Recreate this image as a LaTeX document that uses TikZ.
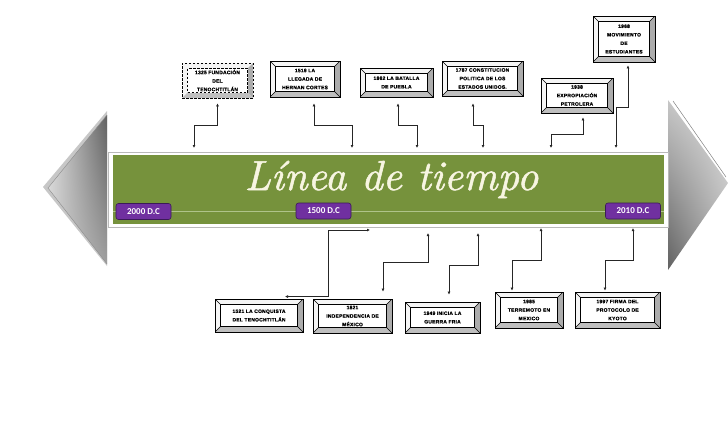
\documentclass[tikz,border=0pt]{standalone}
\usepackage{fontspec}
\newfontfamily\boxfont[LetterSpace=4,FakeBold=0.8]{Liberation Sans}
\newfontfamily\lblfont{Carlito}
\newfontfamily\titlefont[Extension=.otf, UprightFont=*-italic, FakeBold=1.2]{lmroman10}
\usetikzlibrary{arrows.meta,shadings}
\definecolor{olivegr}{HTML}{76923C}
\definecolor{purp}{HTML}{7030A0}
\definecolor{purpdark}{HTML}{3B1A57}
\definecolor{cream}{HTML}{F7F5E1}
\definecolor{bandline}{HTML}{AFC38A}
\newcommand\bevfills{%
 \coordinate (pnw) at (path picture bounding box.north west);
 \coordinate (pne) at (path picture bounding box.north east);
 \coordinate (psw) at (path picture bounding box.south west);
 \coordinate (pse) at (path picture bounding box.south east);
 \fill[gray!8] (psw) -- (pnw) -- (pne) -- ([shift={(-5.5pt,-5.5pt)}]pne) -- ([shift={(5.5pt,-5.5pt)}]pnw) -- ([shift={(5.5pt,5.5pt)}]psw) -- cycle;
 \fill[gray!65] (pne) -- (pse) -- ([shift={(-5.5pt,5.5pt)}]pse) -- ([shift={(-5.5pt,-5.5pt)}]pne) -- cycle;
 \fill[gray!50] (psw) -- (pse) -- ([shift={(-5.5pt,5.5pt)}]pse) -- ([shift={(5.5pt,5.5pt)}]psw) -- cycle;
 \draw[line width=0.7pt, fill=white] ([shift={(5.5pt,-5.5pt)}]pnw) rectangle ([shift={(-5.5pt,5.5pt)}]pse);
}
\newcommand\bevdiag{%
 \draw[line width=0.4pt] (pnw) -- ++(5.5pt,-5.5pt) (pne) -- ++(-5.5pt,-5.5pt) (psw) -- ++(5.5pt,5.5pt) (pse) -- ++(-5.5pt,5.5pt);
}
\tikzset{
 evbase/.style={draw=black, line width=0.8pt, fill=white, inner sep=0pt, align=center, text=black,
   font=\boxfont\bfseries\fontsize{5}{8.5}\selectfont},
 ev/.style={evbase, path picture={\bevfills\bevdiag}},
 evd/.style={evbase, dash pattern=on 2.5pt off 1.5pt, path picture={\bevfills}},
 conn/.style={line width=0.7pt, black!85, {Latex[length=3pt,width=3pt]}-{Latex[length=3pt,width=3pt]}},
 lbl/.style={fill=purp, draw=purpdark, line width=0.6pt, rounded corners=2.5pt, minimum width=55pt,
   minimum height=16pt, inner sep=0pt, text=white, font=\lblfont\bfseries\fontsize{9}{9}\selectfont},
}
\begin{document}
\begin{tikzpicture}[x=1pt,y=-1pt]
\useasboundingbox (0,0) rectangle (728,442);
% side arrows
\fill[black!22] (107,111) -- (43,187) -- (107,266) -- cycle;
\shade[upper left=black!12, upper right=black!62, lower left=black!18, lower right=black!38] (107,115) -- (48,188) -- (107,264) -- cycle;
\draw[black!45, line width=0.4pt] (107,115) -- (48,188) -- (107,264);
\shade[upper left=black!22, upper right=black!12, lower left=black!62, lower right=black!30] (668,100) -- (728,183) -- (668,270) -- cycle;
\draw[black!50, line width=0.5pt] (673,101) -- (726,177);
% frame and band
\node[draw=gray!55, line width=1pt, fill=white, minimum width=560pt, minimum height=75pt, inner sep=0pt] (frame) at (388,189.5) {};
\node[fill=olivegr, minimum width=551pt, minimum height=69pt, inner sep=0pt] (band) at (388.5,189.5) {};
\draw[bandline, line width=0.6pt] ([yshift=-21.5pt]band.west) -- ([yshift=-21.5pt]band.east);
\node[font=\titlefont\fontsize{42}{42}\selectfont, text=cream, anchor=base, inner sep=0pt] (title) at (391.5,190) {Línea de tiempo};
\node[lbl] (l2000) at (143.5,211.5) {2000 D.C};
\node[lbl] (l1500) at (323.5,211) {1500 D.C};
\node[lbl] (l2010) at (633,211) {2010 D.C};
% top boxes
\node[evd, minimum width=71pt, minimum height=35pt] (b1325) at (217.5,80.5) {1325 FUNDACIÓN\\DEL\\TENOCHTITLÁN};
\node[ev, minimum width=70pt, minimum height=36pt] (b1519) at (305,79) {1519 LA\\LLEGADA DE\\HERNAN CORTES};
\node[ev, minimum width=73pt, minimum height=29pt] (b1862) at (396.5,82.5) {1862 LA BATALLA\\DE PUEBLA};
\node[ev, minimum width=81pt, minimum height=35pt] (b1787) at (482.5,78.5) {1787 CONSTITUCION\\POLITICA DE LOS\\ESTADOS UNIDOS.};
\node[ev, minimum width=72pt, minimum height=35pt] (b1938) at (577,95.5) {1938\\EXPROPIACIÓN\\PETROLERA};
\node[ev, minimum width=62pt, minimum height=46pt] (b1968) at (624,39) {1968\\MOVIMIENTO\\DE\\ESTUDIANTES};
% bottom boxes
\node[ev, minimum width=88pt, minimum height=33pt] (b1521) at (259,315.5) {1521 LA CONQUISTA\\DEL TENOCHTITLÁN};
\node[ev, minimum width=79pt, minimum height=34pt] (b1821) at (352.5,316) {1821\\INDEPENDENCIA DE\\MÉXICO};
\node[ev, minimum width=75pt, minimum height=31pt] (b1949) at (442.5,317.5) {1949 INICIA LA\\GUERRA FRIA};
\node[ev, minimum width=68pt, minimum height=36pt] (b1985) at (529,310) {1985\\TERREMOTO EN\\MEXICO};
\node[ev, minimum width=85pt, minimum height=36pt] (b1997) at (617.5,310) {1997 FIRMA DEL\\PROTOCOLO DE\\KYOTO};
% top connectors
\coordinate (t1) at (194,148);
\coordinate (t2) at (352,148);
\coordinate (t3) at (417,148);
\coordinate (t4) at (483,148);
\coordinate (t5) at (551,148);
\coordinate (t6) at (616,148);
\draw[conn] ([yshift=-5pt]b1325.south) -- ++(0,22) -| (t1);
\draw[conn] ([xshift=9pt,yshift=-6pt]b1519.south) -- ++(0,22) -| (t2);
\draw[conn] ([xshift=1.5pt,yshift=-6pt]b1862.south) -- ++(0,22) -| (t3);
\draw[conn] ([xshift=-9.5pt,yshift=-7pt]b1787.south) -- ++(0,22) -| (t4);
\draw[conn] ([xshift=6pt,yshift=-4pt]b1938.south) -- ++(0,17) -| (t5);
\draw[conn] ([xshift=4pt,yshift=-3pt]b1968.south) -- ++(0,42) -| (t6);
% bottom connectors
\coordinate (f1) at (370,230);
\coordinate (f2) at (428,233);
\coordinate (f3) at (478,233);
\coordinate (f4) at (541,228);
\coordinate (f5) at (633,228);
\draw[conn] (f1) -- ++(-42,0) |- ([xshift=26pt,yshift=2pt]b1521.north);
\draw[conn] (f2) -- ++(0,29) -| ([xshift=30.5pt,yshift=7pt]b1821.north);
\draw[conn] (f3) -- ++(0,32) -| ([xshift=6.5pt,yshift=7pt]b1949.north);
\draw[conn] (f4) -- ++(0,32) -| ([xshift=-17pt,yshift=1pt]b1985.north);
\draw[conn] (f5) -- ++(0,32) -| ([xshift=-12.5pt,yshift=1pt]b1997.north);
\end{tikzpicture}
\end{document}
